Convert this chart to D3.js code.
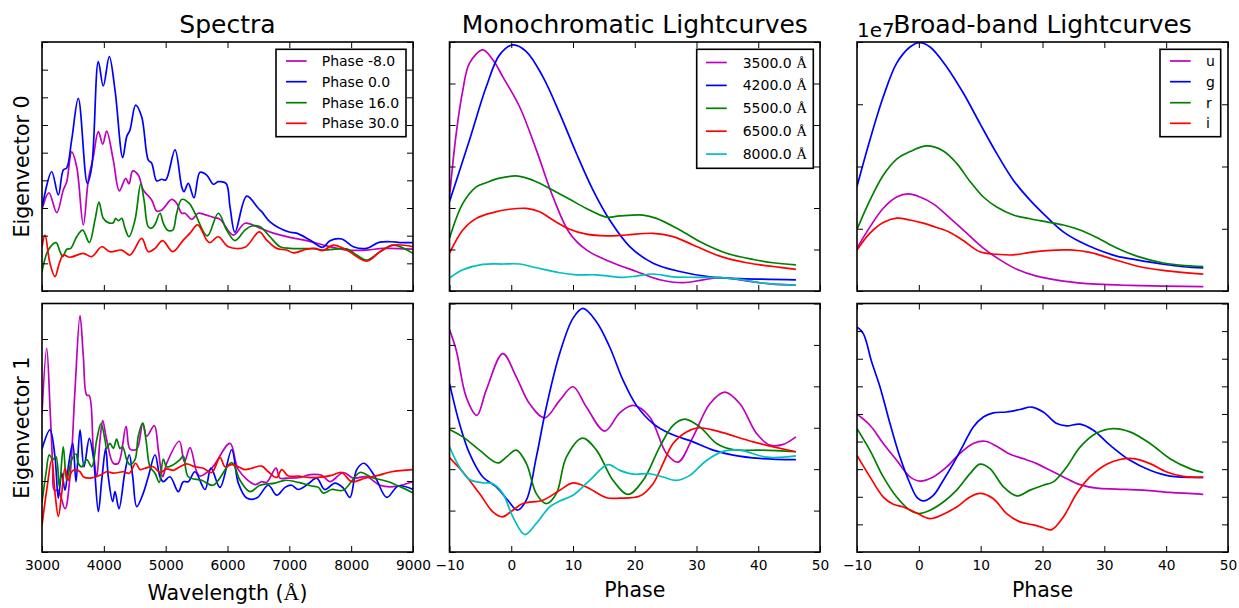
<!DOCTYPE html>
<html>
<head>
<meta charset="utf-8">
<script src="https://cdn.jsdelivr.net/npm/d3@7"></script>
<style>
  body { margin: 0; background: #fff; }
  svg { display: block; }
  text { font-family: "DejaVu Sans", sans-serif; fill: #000; }
</style>
</head>
<body>
<svg id="fig" width="1239" height="608"></svg>
<script>
// ---------------- Data ----------------
// Spectra: [wavelength (Å), amplitude]
const spectraPhases = ["Phase -8.0", "Phase 0.0", "Phase 16.0", "Phase 30.0"];
const wavelengthTicks = [3000, 4000, 5000, 6000, 7000, 8000, 9000];

// Eigenvector 0 spectra
const ev0SpecM8 = [[3000,2.95],[3113,3.55],[3238,2.83],[3344,3.65],[3400,3.95],[3480,5.03],[3561,4.49],[3668,2.39],[3749,4.01],[3830,4.85],[3911,5.76],[3982,5.31],[4046,5.78],[4153,4.73],[4250,3.62],[4354,4.07],[4407,3.87],[4467,4.34],[4557,4.19],[4638,3.65],[4774,3.29],[4855,2.89],[4936,2.93],[5098,3.31],[5178,3.17],[5259,2.81],[5313,2.81],[5421,2.59],[5528,2.81],[5609,2.78],[5770,2.66],[5879,2.59],[6094,2.02],[6283,2.45],[6526,2.27],[6741,2.09],[7011,1.94],[7281,1.82],[7604,1.63],[7928,1.48],[8251,1.48],[8520,1.54],[9000,1.51]];
const ev0SpecP0 = [[3000,3.0],[3157,4.31],[3264,3.47],[3344,4.37],[3400,4.45],[3480,5.46],[3587,6.96],[3733,3.89],[3804,4.49],[3911,8.29],[3991,7.41],[4088,8.47],[4181,7.26],[4305,4.82],[4370,5.58],[4423,5.82],[4515,6.72],[4612,6.30],[4719,4.73],[4774,4.62],[4855,3.98],[4936,4.04],[5001,4.01],[5151,5.10],[5259,3.77],[5297,3.59],[5366,3.89],[5458,3.37],[5555,4.29],[5664,4.19],[5770,3.86],[5851,3.95],[5976,3.89],[6040,3.05],[6121,2.12],[6311,3.43],[6498,2.99],[6553,2.87],[6687,2.50],[6983,2.14],[7119,2.09],[7334,1.84],[7540,1.58],[7658,1.82],[7847,1.88],[8035,1.60],[8251,1.54],[8439,1.75],[8656,1.78],[8790,1.75],[9000,1.75]];
const ev0SpecP16 = [[3000,0.7],[3102,1.48],[3226,1.75],[3291,1.42],[3335,1.24],[3400,1.51],[3464,1.54],[3561,1.96],[3658,2.20],[3765,1.75],[3857,2.57],[3922,3.21],[3991,2.63],[4072,2.47],[4153,2.47],[4192,2.63],[4234,2.54],[4289,2.63],[4342,2.27],[4407,1.96],[4504,2.57],[4596,3.86],[4650,3.29],[4719,2.32],[4774,2.27],[4828,2.41],[4908,2.81],[4962,2.45],[5033,2.20],[5114,2.20],[5178,2.81],[5259,3.31],[5382,3.17],[5474,2.81],[5673,1.99],[5851,2.81],[5987,2.20],[6121,1.82],[6283,2.20],[6391,2.35],[6526,2.32],[6687,1.96],[6849,1.60],[7011,1.54],[7388,1.53],[7550,1.48],[7928,1.52],[8090,1.30],[8251,1.12],[8467,1.42],[8682,1.66],[9000,1.36]];
const ev0SpecP30 = [[3000,1.6],[3049,2.02],[3129,1.00],[3210,0.52],[3280,1.00],[3344,1.30],[3453,1.22],[3668,1.36],[3804,1.24],[3966,1.60],[4100,1.42],[4289,1.48],[4423,1.30],[4612,1.90],[4719,1.42],[4828,1.54],[4952,1.82],[5114,1.42],[5285,1.84],[5394,2.09],[5518,2.39],[5664,1.84],[5717,1.75],[5851,1.96],[6013,1.60],[6283,1.58],[6514,2.14],[6633,1.84],[6796,1.54],[6957,1.48],[7064,1.38],[7281,1.51],[7415,1.54],[7540,1.46],[7712,1.66],[7928,1.48],[8251,1.08],[8467,1.42],[8682,1.66],[9000,1.60]];

// Eigenvector 1 spectra
const ev1SpecM8 = [[3000,0.95],[3076,1.87],[3129,1.05],[3173,0.20],[3199,-0.13],[3264,-0.13],[3372,-0.39],[3453,0.06],[3534,1.29],[3615,2.33],[3668,1.76],[3723,1.21],[3765,1.20],[3830,0.44],[3885,0.06],[3938,0.58],[3982,0.85],[4046,0.58],[4153,0.25],[4234,0.25],[4359,0.77],[4423,0.45],[4532,0.45],[4629,0.81],[4693,0.63],[4816,0.78],[4881,0.44],[4952,0.06],[5017,0.25],[5221,0.56],[5302,0.27],[5394,0.47],[5502,0.13],[5555,0.07],[5745,0.18],[6040,0.53],[6175,0.16],[6445,-0.05],[6553,-0.01],[6634,-0.02],[6784,0.18],[6849,0.04],[6957,0.04],[7173,0.05],[7334,0.09],[7524,0.08],[7658,-0.01],[7873,0.12],[8035,0.04],[8251,0.06],[8467,-0.06],[8682,-0.08],[9000,-0.01]];
const ev1SpecP0 = [[3000,0.45],[3129,0.72],[3210,0.34],[3264,-0.24],[3319,0.11],[3372,-0.13],[3425,0.20],[3497,0.53],[3550,-0.01],[3615,0.72],[3679,0.20],[3765,0.60],[3830,0.34],[3911,-0.43],[3966,0.01],[4030,0.46],[4072,0.06],[4143,-0.29],[4181,-0.15],[4245,-0.39],[4342,0.13],[4412,0.37],[4467,0.06],[4532,-0.36],[4638,-0.17],[4719,0.06],[4828,0.37],[4908,0.06],[4962,-0.01],[5070,0.06],[5204,-0.15],[5285,-0.01],[5366,-0.01],[5474,0.13],[5636,-0.12],[5733,0.18],[5879,-0.09],[6068,0.44],[6175,-0.03],[6311,-0.24],[6472,-0.24],[6660,-0.06],[6796,-0.20],[6930,-0.09],[7038,-0.06],[7145,-0.12],[7307,-0.04],[7443,0.04],[7572,-0.12],[7739,-0.03],[7873,-0.10],[7981,-0.23],[8090,0.16],[8208,0.25],[8386,0.06],[8575,-0.23],[8763,-0.07],[9000,-0.12]];
const ev1SpecP16 = [[3000,-0.3],[3065,0.11],[3118,0.37],[3173,0.30],[3226,0.34],[3280,-0.08],[3344,0.48],[3400,0.01],[3480,0.30],[3550,0.38],[3587,0.25],[3642,0.20],[3723,0.30],[3804,0.20],[3885,0.58],[3954,0.81],[4019,0.58],[4046,0.46],[4100,0.53],[4153,0.46],[4207,0.59],[4261,0.46],[4305,0.48],[4370,0.30],[4423,0.23],[4504,0.30],[4557,0.63],[4629,0.82],[4682,0.58],[4747,0.20],[4828,0.11],[4897,-0.02],[4962,0.31],[5017,0.20],[5124,0.23],[5232,0.30],[5285,0.35],[5366,0.06],[5583,0.01],[5770,-0.06],[6068,0.26],[6202,0.01],[6364,-0.15],[6526,-0.06],[6768,-0.03],[6930,0.01],[7145,-0.02],[7361,-0.07],[7469,-0.09],[7550,-0.17],[7685,-0.12],[7873,-0.13],[8143,0.12],[8332,0.05],[8601,-0.01],[8817,-0.09],[9000,-0.17]];
const ev1SpecP30 = [[3000,-0.62],[3076,-0.13],[3157,0.30],[3210,-0.17],[3264,-0.50],[3319,-0.17],[3372,0.18],[3425,0.01],[3480,0.13],[3534,0.16],[3615,0.13],[3668,0.06],[3776,0.04],[3938,0.08],[4046,0.13],[4153,0.11],[4315,0.13],[4412,0.11],[4515,0.25],[4585,0.16],[4666,0.18],[4800,0.20],[4908,0.12],[5017,0.17],[5124,0.15],[5232,0.20],[5340,0.24],[5474,0.20],[5609,0.18],[5745,0.12],[5879,0.33],[5960,0.20],[6068,0.23],[6175,0.20],[6283,0.16],[6391,0.18],[6553,0.21],[6660,0.13],[6796,0.05],[6877,0.16],[6984,0.07],[7145,0.07],[7307,0.05],[7469,0.05],[7685,0.08],[7847,0.12],[8008,-0.01],[8224,0.04],[8439,0.08],[8656,0.13],[9000,0.16]];

// Monochromatic lightcurves: [phase, amplitude]
const monoWavelengths = ["3500.0", "4200.0", "5500.0", "6500.0", "8000.0"];
const phaseTicks = [-10, 0, 10, 20, 30, 40, 50];

const ev0Mono3500 = [[-10,2.27],[-8.91,3.80],[-7.84,4.84],[-6.76,5.49],[-4.60,5.81],[-2.98,5.57],[-1.36,5.16],[1.35,4.44],[4.06,3.40],[6.75,2.27],[9.46,1.39],[12.17,0.99],[15.94,0.71],[20.27,0.47],[24.05,0.27],[27.83,0.20],[31.07,0.27],[33.78,0.32],[37.03,0.27],[41.89,0.17],[46.1,0.14]];
const ev0Mono4200 = [[-10,2.15],[-6.76,3.64],[-4.05,4.92],[-1.89,5.69],[0.26,5.93],[2.44,5.77],[5.13,5.16],[7.84,4.28],[10.54,3.32],[13.24,2.43],[15.94,1.71],[19.19,1.07],[22.97,0.67],[27.30,0.47],[32.16,0.34],[37.03,0.30],[46.1,0.27]];
const ev0Mono5500 = [[-10,1.27],[-7.84,2.11],[-5.67,2.51],[-4.05,2.61],[-1.89,2.72],[1.08,2.77],[3.51,2.67],[6.75,2.43],[9.46,2.21],[12.17,1.99],[15.41,1.78],[17.57,1.81],[21.35,1.83],[23.52,1.75],[27.30,1.47],[31.07,1.15],[34.86,0.91],[39.18,0.76],[42.42,0.68],[46.1,0.63]];
const ev0Mono6500 = [[-10,0.91],[-7.84,1.47],[-5.67,1.75],[-2.98,1.89],[-0.27,1.97],[2.44,1.99],[4.59,1.91],[6.75,1.71],[9.46,1.49],[12.17,1.37],[15.41,1.33],[18.65,1.35],[22.97,1.39],[26.21,1.31],[29.45,1.11],[33.78,0.84],[38.11,0.68],[42.42,0.59],[46.1,0.52]];
const ev0Mono8000 = [[-10,0.31],[-7.84,0.51],[-4.60,0.64],[-1.36,0.65],[1.35,0.65],[4.06,0.56],[7.84,0.44],[10.54,0.39],[13.79,0.39],[18.1,0.33],[20.27,0.36],[22.97,0.41],[26.21,0.34],[30.0,0.33],[33.78,0.32],[37.03,0.28],[40.81,0.19],[46.1,0.14]];

const ev1Mono3500 = [[-10,5.37],[-8.91,4.87],[-7.29,3.74],[-5.57,3.30],[-4.05,3.91],[-1.36,4.79],[0.81,4.23],[2.97,3.58],[5.40,3.24],[7.84,3.66],[9.99,3.99],[12.17,3.50],[15.13,2.92],[17.57,3.36],[19.73,3.54],[22.43,3.26],[25.14,2.38],[27.02,2.17],[29.45,2.78],[32.16,3.58],[34.59,3.86],[37.03,3.58],[39.73,2.86],[41.89,2.58],[44.05,2.60],[46.1,2.78]];
const ev1Mono4200 = [[-10,4.07],[-8.38,3.10],[-6.76,2.38],[-4.60,1.81],[-2.43,1.57],[-0.55,1.25],[0.98,1.01],[2.44,1.25],[4.06,2.29],[5.68,3.50],[7.84,4.79],[9.99,5.64],[11.61,5.88],[13.79,5.56],[15.94,4.95],[18.1,4.15],[20.27,3.54],[22.97,3.10],[25.68,2.86],[29.45,2.66],[32.7,2.46],[35.94,2.34],[40.27,2.26],[46.1,2.23]];
const ev1Mono5500 = [[-10,2.96],[-7.84,2.78],[-5.14,2.46],[-2.17,2.15],[-0.81,2.29],[0.81,2.46],[2.44,2.14],[4.06,1.41],[5.68,1.17],[7.30,1.41],[8.92,2.29],[11.52,2.75],[13.79,2.46],[16.48,1.73],[18.91,1.39],[21.35,1.73],[24.05,2.54],[26.21,3.06],[28.11,3.21],[30.54,3.02],[33.25,2.62],[35.94,2.47],[40.27,2.46],[46.1,2.42]];
const ev1Mono6500 = [[-10,2.28],[-7.84,1.93],[-5.14,1.41],[-2.98,0.97],[-1.45,0.85],[0.26,1.01],[1.89,1.17],[5.13,1.25],[7.84,1.49],[9.99,1.67],[12.17,1.57],[15.41,1.31],[17.57,1.30],[20.81,1.35],[22.97,1.65],[24.59,2.14],[26.21,2.62],[28.38,2.90],[30.42,3.00],[33.78,2.90],[39.18,2.66],[46.1,2.42]];
const ev1Mono8000 = [[-10,2.54],[-8.38,2.05],[-6.76,1.75],[-4.60,1.67],[-2.98,1.65],[-1.36,1.41],[0.26,0.85],[2.21,0.42],[4.06,0.69],[6.22,1.09],[7.84,1.23],[9.99,1.37],[12.7,1.73],[15.67,2.11],[17.57,1.97],[19.73,1.88],[22.43,1.89],[24.59,1.81],[26.76,1.73],[28.92,1.85],[31.62,2.21],[34.32,2.43],[37.03,2.46],[41.35,2.29],[46.1,2.32]];

// Broad-band lightcurves: [phase, flux]; eigenvector 0 in units of 1e7
const bands = ["u", "g", "r", "i"];

const ev0BandU = [[-10,0.69],[-7.90,1.03],[-5.75,1.33],[-3.58,1.51],[-1.70,1.56],[0.19,1.51],[2.34,1.40],[5.04,1.17],[7.74,0.93],[10.43,0.69],[13.13,0.50],[15.83,0.35],[19.06,0.24],[23.37,0.16],[28.77,0.11],[34.15,0.09],[46.0,0.07]];
const ev0BandG = [[-10,1.68],[-7.90,2.43],[-5.75,3.12],[-3.58,3.66],[-1.43,3.92],[0.08,3.99],[1.81,3.92],[4.51,3.60],[7.19,3.18],[9.89,2.69],[12.59,2.21],[15.28,1.78],[17.98,1.46],[20.68,1.19],[23.37,0.95],[26.07,0.79],[28.77,0.67],[32.0,0.56],[35.24,0.50],[39.54,0.43],[42.77,0.39],[46.0,0.37]];
const ev0BandR = [[-10,0.99],[-7.90,1.46],[-5.75,1.86],[-3.58,2.12],[-1.43,2.24],[1.27,2.33],[3.96,2.25],[6.12,2.05],[8.28,1.76],[10.43,1.51],[12.59,1.35],[15.28,1.22],[17.98,1.16],[20.68,1.11],[23.37,1.06],[26.07,0.98],[28.77,0.86],[32.0,0.69],[35.24,0.56],[39.54,0.45],[46.0,0.39]];
const ev0BandI = [[-10,0.66],[-7.90,0.93],[-5.75,1.10],[-3.58,1.17],[-1.43,1.14],[0.72,1.09],[2.89,1.02],[5.04,0.94],[7.19,0.81],[9.89,0.63],[12.59,0.59],[15.28,0.58],[17.98,0.62],[20.68,0.65],[24.44,0.66],[27.67,0.62],[31.45,0.51],[35.77,0.39],[39.54,0.33],[46.0,0.27]];

const ev1BandU = [[-10,4.99],[-7.90,4.59],[-5.75,3.93],[-3.58,3.32],[-1.43,2.72],[0.19,2.57],[2.34,2.72],[4.51,3.08],[6.66,3.57],[8.81,3.93],[10.70,4.01],[12.59,3.83],[14.75,3.54],[16.9,3.38],[19.06,3.20],[21.21,2.96],[23.37,2.72],[26.07,2.44],[28.77,2.31],[32.0,2.28],[36.31,2.24],[40.62,2.16],[46.0,2.09]];
const ev1BandG = [[-10,8.15],[-8.98,7.91],[-7.62,6.88],[-6.28,5.98],[-4.66,4.65],[-3.05,3.44],[-1.43,2.48],[-0.34,1.99],[0.72,1.85],[2.34,2.05],[3.96,2.60],[5.57,3.20],[7.19,3.87],[8.81,4.53],[10.43,4.89],[12.05,5.04],[14.2,5.07],[16.36,5.16],[18.25,5.25],[20.13,5.07],[22.3,4.65],[23.91,4.57],[26.07,4.63],[28.22,4.41],[30.92,3.87],[34.15,3.32],[37.39,2.96],[40.62,2.75],[46.0,2.70]];
const ev1BandR = [[-10,4.47],[-7.90,3.68],[-5.75,2.72],[-3.58,1.99],[-1.43,1.51],[-0.08,1.39],[1.81,1.51],[3.96,1.81],[6.12,2.24],[8.28,2.84],[9.89,3.18],[11.51,3.02],[13.68,2.36],[15.83,2.03],[17.98,2.24],[20.13,2.42],[21.75,2.54],[23.91,3.08],[26.07,3.80],[28.77,4.31],[31.45,4.47],[34.15,4.35],[37.39,3.93],[40.62,3.38],[43.85,3.02],[46.0,2.88]];
const ev1BandI = [[-10,3.50],[-7.90,2.72],[-5.75,1.99],[-4.13,1.73],[-2.51,1.63],[-0.34,1.41],[1.81,1.21],[3.96,1.37],[6.12,1.63],[8.28,1.99],[9.89,2.12],[12.05,1.93],[14.2,1.39],[16.36,1.09],[18.51,0.98],[20.13,0.88],[21.49,0.81],[23.37,1.27],[25.53,2.12],[27.67,2.72],[30.38,3.18],[32.54,3.35],[34.69,3.38],[37.39,3.20],[40.09,2.90],[42.77,2.74],[46.0,2.70]];

// ---------------- Styles & layout ----------------
const colorM = "#bf00bf", colorB = "#0000ff", colorG = "#008000", colorR = "#ff0000", colorC = "#00bfbf";
const lineColors4 = [colorM, colorB, colorG, colorR];
const lineColors5 = [colorM, colorB, colorG, colorR, colorC];

const colX = [[42, 413], [449.5, 820], [857, 1228]];
const rowY = [[42, 291], [303.5, 552]];
const tickLen = 6;
const tickFont = 13.75;
const curveWidth = 1.7;

const svg = d3.select("#fig");
const defs = svg.append("defs");
let clipCount = 0;

function panel(col, row, xDomain, yDomain, xTicks, yTicks, seriesList, colors, showXLabels) {
  const [x0, x1] = colX[col];
  const [y0, y1] = rowY[row];
  const x = d3.scaleLinear().domain(xDomain).range([x0, x1]);
  const y = d3.scaleLinear().domain(yDomain).range([y1, y0]);

  const id = "clip" + (clipCount++);
  defs.append("clipPath").attr("id", id)
    .append("rect").attr("x", x0).attr("y", y0).attr("width", x1 - x0).attr("height", y1 - y0);

  const g = svg.append("g");
  const plot = g.append("g").attr("clip-path", `url(#${id})`);
  const line = d3.line()
    .x(d => x(d[0])).y(d => y(d[1]))
    .curve(d3.curveCatmullRom.alpha(0.5));

  seriesList.forEach((s, i) => {
    plot.append("path").datum(s)
      .attr("d", line)
      .attr("fill", "none")
      .attr("stroke", colors[i])
      .attr("stroke-width", curveWidth)
      .attr("stroke-linejoin", "round");
  });

  const styleAxis = sel => {
    sel.select(".domain").remove();
    sel.selectAll(".tick line").attr("stroke", "#000").attr("stroke-width", 1);
    sel.attr("font-family", "DejaVu Sans, sans-serif").attr("font-size", tickFont);
    sel.selectAll(".tick text").attr("fill", "#000");
  };

  g.append("g").attr("transform", `translate(${x0},0)`)
    .call(d3.axisLeft(y).tickValues(yTicks).tickSize(-tickLen).tickFormat(""))
    .call(styleAxis);
  g.append("g").attr("transform", `translate(${x1},0)`)
    .call(d3.axisRight(y).tickValues(yTicks).tickSize(-tickLen).tickFormat(""))
    .call(styleAxis);
  g.append("g").attr("transform", `translate(0,${y0})`)
    .call(d3.axisTop(x).tickValues(xTicks).tickSize(-tickLen).tickFormat(""))
    .call(styleAxis);
  g.append("g").attr("transform", `translate(0,${y1})`)
    .call(d3.axisBottom(x).tickValues(xTicks).tickSize(-tickLen).tickPadding(8)
      .tickFormat(showXLabels ? d3.format("d") : ""))
    .call(styleAxis);

  g.append("rect")
    .attr("x", x0).attr("y", y0).attr("width", x1 - x0).attr("height", y1 - y0)
    .attr("fill", "none").attr("stroke", "#000").attr("stroke-width", 1.6);
  return { x, y };
}

// Spectra column
panel(0, 0, [3000, 9000], [0, 9], wavelengthTicks, d3.range(0, 10),
  [ev0SpecM8, ev0SpecP0, ev0SpecP16, ev0SpecP30], lineColors4, false);
panel(0, 1, [3000, 9000], [-1, 2.5], wavelengthTicks, [-1, 0, 1, 2],
  [ev1SpecM8, ev1SpecP0, ev1SpecP16, ev1SpecP30], lineColors4, true);

// Monochromatic lightcurves column
panel(1, 0, [-10, 50], [0, 6], phaseTicks, d3.range(0, 7),
  [ev0Mono3500, ev0Mono4200, ev0Mono5500, ev0Mono6500, ev0Mono8000], lineColors5, false);
panel(1, 1, [-10, 50], [0, 6], phaseTicks, d3.range(0, 7),
  [ev1Mono3500, ev1Mono4200, ev1Mono5500, ev1Mono6500, ev1Mono8000], lineColors5, true);

// Broad-band lightcurves column
panel(2, 0, [-10, 50], [0, 4], phaseTicks, d3.range(0, 5),
  [ev0BandU, ev0BandG, ev0BandR, ev0BandI], lineColors4, false);
panel(2, 1, [-10, 50], [0, 9], phaseTicks, d3.range(0, 10),
  [ev1BandU, ev1BandG, ev1BandR, ev1BandI], lineColors4, true);

// ---------------- Titles & labels ----------------
const titles = ["Spectra", "Monochromatic Lightcurves", "Broad-band Lightcurves"];
titles.forEach((t, i) => {
  svg.append("text")
    .attr("x", (colX[i][0] + colX[i][1]) / 2).attr("y", 33)
    .attr("text-anchor", "middle").attr("font-size", 25).text(t);
});

// offset text for the broad-band eigenvector 0 axis
svg.append("text").attr("x", colX[2][0]).attr("y", 37)
  .attr("font-size", 20).text("1e7");

["Eigenvector 0", "Eigenvector 1"].forEach((t, i) => {
  svg.append("text")
    .attr("transform", `translate(29,${(rowY[i][0] + rowY[i][1]) / 2}) rotate(-90)`)
    .attr("text-anchor", "middle").attr("font-size", 20.5).text(t);
});

const wl = svg.append("text")
  .attr("x", (colX[0][0] + colX[0][1]) / 2).attr("y", 600)
  .attr("text-anchor", "middle").attr("font-size", 20.5);
wl.append("tspan").text("Wavelength (");
wl.append("tspan").attr("font-family", "Liberation Serif, serif").attr("font-size", 22).text("Å");
wl.append("tspan").text(")");

[1, 2].forEach(i => {
  svg.append("text")
    .attr("x", (colX[i][0] + colX[i][1]) / 2).attr("y", 597)
    .attr("text-anchor", "middle").attr("font-size", 20.5).text("Phase");
});

// ---------------- Legends ----------------
function legend(box, lineX, textX, rowYs, labels, colors, withAngstrom) {
  const g = svg.append("g");
  g.append("rect")
    .attr("x", box[0]).attr("y", box[1]).attr("width", box[2] - box[0]).attr("height", box[3] - box[1])
    .attr("fill", "#fff").attr("stroke", "#000").attr("stroke-width", 1.6);
  labels.forEach((lab, i) => {
    g.append("line")
      .attr("x1", lineX[0]).attr("x2", lineX[1])
      .attr("y1", rowYs[i]).attr("y2", rowYs[i])
      .attr("stroke", colors[i]).attr("stroke-width", curveWidth);
    const t = g.append("text").attr("x", textX).attr("y", rowYs[i] + 5).attr("font-size", 14);
    t.append("tspan").text(lab);
    if (withAngstrom) {
      t.append("tspan").text(" ");
      t.append("tspan").attr("font-family", "Liberation Serif, serif").attr("font-size", 15).text("Å");
    }
  });
}

legend([276, 49.3, 406, 136.7], [286, 306.7], 321.7, [61, 81.7, 102.7, 123.3],
  spectraPhases, lineColors4, false);
legend([696.7, 49.3, 813.3, 168.3], [706, 726.7], 742.7, [62.5, 85.4, 108.3, 131.2, 154.1],
  monoWavelengths, lineColors5, true);
legend([1160, 49.3, 1220.7, 136.7], [1170, 1190.7], 1206, [61, 81.7, 102.7, 123.3],
  bands, lineColors4, false);
</script>
</body>
</html>
